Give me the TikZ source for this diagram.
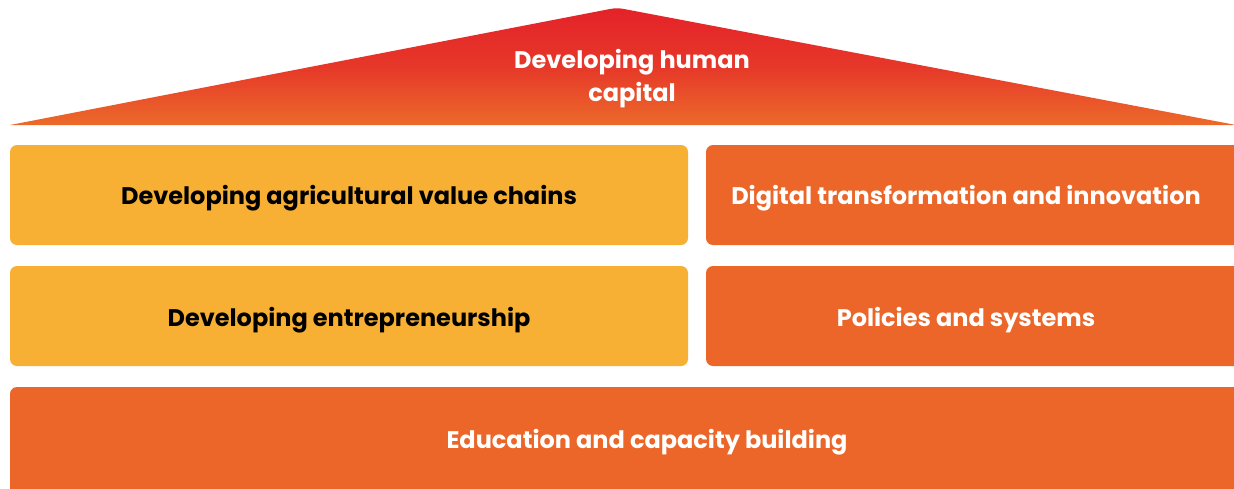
\documentclass[tikz,border=0pt]{standalone}
\usepackage{fontspec}
\setmainfont{Poppins}
\definecolor{pillyellow}{HTML}{F7B034}
\definecolor{pillorange}{HTML}{EB6628}
\definecolor{roofred}{HTML}{E42229}
\definecolor{rooforange}{HTML}{EC6A2A}
\begin{document}
\begin{tikzpicture}[x=1pt,y=-1pt,
  pill/.style={rounded corners=7pt},
  lbl/.style={font=\bfseries\fontsize{24}{28}\selectfont, anchor=center},
  dark/.style={lbl, text=black},
  light/.style={lbl, text=white}]
\useasboundingbox (0,0) rectangle (1234,488);
\clip (0,0) rectangle (1234,488);
% roof
\shade[top color=roofred, bottom color=rooforange, middle color=roofred!70!rooforange]
  (10,125) -- (610,9) to[out=10,in=170] (624,9) -- (1236,125) -- cycle;
\node[light, align=center, font=\bfseries\fontsize{24}{33}\selectfont] (roof) at (632,79) {Developing human\\capital};
% boxes
\fill[pillyellow, pill] (10,145) rectangle (688,245);
\node[dark] (a) at (349,198) {Developing agricultural value chains};
\fill[pillorange, pill] (706,145) rectangle (1250,245);
\node[light] (b) at (966,198) {Digital transformation and innovation};
\fill[pillyellow, pill] (10,266) rectangle (688,366);
\node[dark] (c) at (349,320) {Developing entrepreneurship};
\fill[pillorange, pill] (706,266) rectangle (1250,366);
\node[light] (d) at (966,320) {Policies and systems};
\fill[pillorange, pill] (10,387) rectangle (1250,500);
\node[light] (e) at (647,442) {Education and capacity building};
\end{tikzpicture}
\end{document}
